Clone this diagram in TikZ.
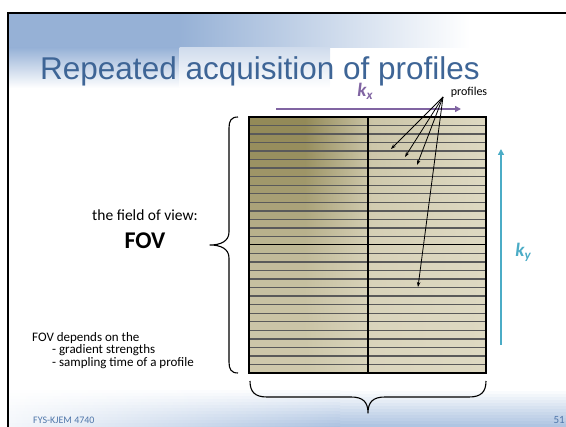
\documentclass[tikz,border=0pt]{standalone}
\usepackage{fontspec}
\setmainfont{Carlito}
\newfontfamily\titlefont{Liberation Sans}
\usetikzlibrary{arrows.meta}

\definecolor{titleblue}{RGB}{62,101,150}
\definecolor{foottext}{RGB}{79,118,170}
\definecolor{headwash}{RGB}{150,177,214}
\definecolor{footwash}{RGB}{170,193,224}
\definecolor{kxpurple}{RGB}{128,100,162}
\definecolor{kycyan}{RGB}{75,172,198}
\definecolor{profline}{RGB}{90,90,90}
\definecolor{gridolive}{RGB}{147,138,88}
\definecolor{gridbeige}{RGB}{222,217,194}

\begin{document}
\begin{tikzpicture}[x=1pt,y=-1pt,
  profarrow/.style={line width=0.8pt,-{Stealth[length=5pt,width=3.5pt]}},
  bracepath/.style={line width=1.1pt,line join=round},
  sidetext/.style={inner sep=0pt,anchor=base west,font=\fontsize{13}{15}\selectfont}]
\useasboundingbox (0,0) rectangle (566,427);

% header wash: blue in the upper left, fading downwards and to the right
\fill[headwash] (9,14) rectangle (180,48);
\shade[top color=headwash,bottom color=white] (9,47.5) rectangle (180,88);
\shade[left color=headwash,right color=white] (179.5,14) rectangle (470,48);
\shade[top color=headwash!45!white,bottom color=white] (179.5,47.5) rectangle (330,88);

% footer wash: rows growing bluer downwards and towards the right
\foreach \r in {0,...,13}{
  \pgfmathsetmacro\ya{388+3*\r}
  \pgfmathsetmacro\yb{\ya+3.3}
  \pgfmathtruncatemacro\fb{min(100,100*(3*\r)/38)}
  \pgfmathtruncatemacro\fa{\fb*0.15}
  \shade[left color=footwash!\fa!white,right color=footwash!\fb!white] (9,\ya) rectangle (340,\yb);
  \fill[footwash!\fb!white] (340,\ya) rectangle (566,\yb);
}

% slide frame
\draw[line width=2pt] (8,430) -- (8,13) -- (570,13);

% title
\node[anchor=base west,inner sep=0pt,text=titleblue,
      font=\titlefont\fontsize{31.5}{36}\selectfont] (title) at (40,80)
      {Repeated acquisition of profiles};

% k-space grid: strips tinted olive towards the upper left
\coordinate (gnw) at (249,117);
\coordinate (gse) at (486,373);
\foreach \k/\gp in {0/100,1/99,2/97,3/95,4/93,5/90,6/86,7/82,8/78,9/74,
                    10/69,11/63,12/57,13/51,14/46,15/42,16/39,17/36,18/34,19/32,
                    20/30,21/29,22/28,23/27,24/26,25/25,26/24,27/23,28/22,29/22}{
  \pgfmathsetmacro\ya{117+\k*256/30}
  \pgfmathsetmacro\yb{\ya+256/30+0.3}
  \pgfmathtruncatemacro\gq{\gp/4}
  \fill[gridolive!\gp!gridbeige] (249,\ya) rectangle (305,\yb);
  \shade[left color=gridolive!\gp!gridbeige,right color=gridolive!\gq!gridbeige] (305,\ya) rectangle (372,\yb);
  \shade[left color=gridolive!\gq!gridbeige,right color=gridbeige] (372,\ya) rectangle (486,\yb);
}
\foreach \k in {1,...,29}{
  \ifnum\k=15\relax\else
    \draw[profline,line width=1.4pt] (249,117+\k*256/30) -- (486,117+\k*256/30);
  \fi}
\draw[black,line width=1pt] (249,245) -- (486,245);
\draw[black,line width=2.2pt] (368,117) -- (368,373);
\draw[black,line width=2pt] (gnw) rectangle (gse);

% k-space axes
\coordinate (kxs) at (276,109);
\coordinate (kxe) at (461,109);
\draw[kxpurple,line width=1.8pt,-{Triangle[length=6pt,width=6pt]}] (kxs) -- (kxe);
\node[text=kxpurple,font=\fontsize{19}{22}\selectfont\bfseries\itshape] (kxlabel) at (365,91)
  {k\raisebox{-0.35ex}{\fontsize{13}{14}\selectfont x}};
\coordinate (kys) at (501,345);
\coordinate (kye) at (501,149);
\draw[kycyan,line width=1.8pt,-{Triangle[length=6pt,width=6pt]}] (kys) -- (kye);
\node[text=kycyan,font=\fontsize{19}{22}\selectfont\bfseries\itshape] (kylabel) at (523,252)
  {k\raisebox{-0.35ex}{\fontsize{13}{14}\selectfont y}};

% profile pointers
\node[inner sep=0pt,font=\fontsize{12}{14}\selectfont] (proflabel) at (469,92) {profiles};
\coordinate (hub) at (443,97);
\coordinate (pa) at (391,149);
\coordinate (pb) at (405,157);
\coordinate (pc) at (417,165);
\coordinate (pd) at (418,287);
\foreach \t in {pa,pb,pc,pd} \draw[profarrow] (hub) -- (\t);

% braces
\draw[bracepath] (238,117) .. controls (231,117) and (229,121) .. (229,128)
  -- (229,232) .. controls (229,241) and (221,245) .. (210,245)
  .. controls (221,245) and (229,249) .. (229,258)
  -- (229,362) .. controls (229,369) and (231,373) .. (238,373);
\draw[bracepath] (250,381) .. controls (250,392) and (255,397) .. (267,397)
  -- (351,397) .. controls (363,397) and (368,402) .. (368,413)
  .. controls (368,402) and (373,397) .. (385,397)
  -- (469,397) .. controls (481,397) and (486,392) .. (486,381);

% field of view annotation
\node[font=\fontsize{15.5}{18}\selectfont] (fovtext) at (145,215) {the field of view:};
\node[font=\fontsize{24}{28}\selectfont\bfseries] (fov) at (145,241) {FOV};
\node[sidetext] (dep1) at (32,341.5) {FOV depends on the};
\node[sidetext] (dep2) at (52,354) {- gradient strengths};
\node[sidetext] (dep3) at (52,366.5) {- sampling time of a profile};

% footer
\node[inner sep=0pt,anchor=base west,text=foottext,font=\fontsize{10}{12}\selectfont] (course) at (33,424) {FYS-KJEM 4740};
\node[inner sep=0pt,anchor=base east,text=foottext,font=\fontsize{11}{12}\selectfont] (pageno) at (565,424) {51};
\end{tikzpicture}
\end{document}
